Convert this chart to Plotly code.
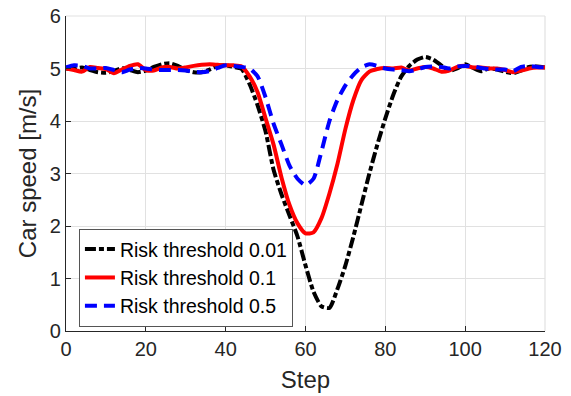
import plotly.graph_objects as go

steps = list(range(0, 121, 2))

risk_001 = [5.00, 4.99, 5.02, 4.97, 4.93, 4.92, 4.95, 5.01, 4.97, 4.93,
            4.96, 5.03, 5.08, 5.10, 5.05, 4.97, 4.93, 4.93, 4.98, 5.05,
            5.06, 5.03, 4.99, 4.70, 4.30, 3.80, 3.07, 2.60, 2.20, 1.80,
            1.25, 0.75, 0.47, 0.44, 0.80, 1.25, 1.80, 2.40, 3.00, 3.55,
            4.05, 4.50, 4.85, 5.05, 5.17, 5.22, 5.17, 5.06, 4.96, 5.00,
            5.08, 5.01, 4.95, 5.00, 4.98, 4.94, 4.91, 4.96, 5.03, 5.04,
            5.02]

risk_01 = [5.00, 4.97, 4.94, 5.03, 5.01, 4.99, 4.91, 4.98, 5.05, 5.08,
           4.97, 4.96, 5.02, 5.03, 5.00, 5.02, 5.05, 5.07, 5.08, 5.07,
           5.06, 5.06, 5.04, 4.85, 4.55, 4.05, 3.55, 2.92, 2.40, 2.05,
           1.86, 1.88, 2.15, 2.62, 3.18, 3.85, 4.40, 4.78, 4.94, 4.99,
           5.01, 5.00, 5.02, 4.96, 5.00, 5.03, 5.00, 4.94, 4.96, 5.03,
           5.05, 5.02, 5.02, 5.00, 5.00, 4.97, 4.93, 4.96, 5.00, 5.02,
           5.02]

risk_05 = [5.02, 5.06, 5.05, 5.00, 5.00, 5.01, 4.97, 4.93, 4.98, 5.01,
           5.00, 4.98, 4.97, 4.97, 4.97, 4.96, 4.94, 4.93, 4.95, 5.01,
           5.06, 5.05, 5.03, 5.00, 4.85, 4.45, 3.95, 3.55, 3.15, 2.90,
           2.78, 2.90, 3.42, 4.00, 4.40, 4.68, 4.88, 5.02, 5.08, 5.05,
           5.00, 4.98, 4.97, 4.95, 4.98, 5.03, 5.04, 5.03, 5.00, 5.04,
           5.05, 5.04, 5.01, 4.99, 4.98, 4.98, 4.95, 5.03, 5.05, 5.03,
           5.02]

series_names = ["Risk threshold 0.01", "Risk threshold 0.1", "Risk threshold 0.5"]
x_ticks = [0, 20, 40, 60, 80, 100, 120]
y_ticks = [0, 1, 2, 3, 4, 5, 6]

fig = go.Figure()
fig.add_trace(go.Scatter(x=steps, y=risk_001, mode="lines", name=series_names[0],
                         line=dict(color="#000000", width=4, dash="11px,3px,5px,3px",
                                   shape="spline", smoothing=0.6)))
fig.add_trace(go.Scatter(x=steps, y=risk_01, mode="lines", name=series_names[1],
                         line=dict(color="#ff0000", width=4, shape="spline", smoothing=0.6)))
fig.add_trace(go.Scatter(x=steps, y=risk_05, mode="lines", name=series_names[2],
                         line=dict(color="#0000ff", width=4, dash="12px,7px",
                                   shape="spline", smoothing=0.6)))

# light box edges on top and right (like MATLAB grid at the limits)
fig.add_shape(type="line", xref="x domain", yref="y domain", x0=0, x1=1, y0=1, y1=1,
              line=dict(color="#e1e1e1", width=1.2), layer="below")
fig.add_shape(type="line", xref="x domain", yref="y domain", x0=1, x1=1, y0=0, y1=1,
              line=dict(color="#e1e1e1", width=1.2), layer="below")

font_fam = "Liberation Sans, Arial, sans-serif"
axis_common = dict(
    showgrid=True, gridcolor="#e1e1e1", gridwidth=1,
    showline=True, linecolor="#262626", linewidth=1.2,
    ticks="inside", ticklen=5, tickcolor="#262626", tickwidth=1,
    zeroline=False, automargin=False, ticklabeloverflow="allow",
    tickfont=dict(family=font_fam, size=20, color="#262626"),
)

fig.update_layout(
    width=571, height=396,
    margin=dict(l=66, r=26, t=16, b=65, autoexpand=False),
    paper_bgcolor="white", plot_bgcolor="white",
    font=dict(family=font_fam, color="#262626"),
    showlegend=True,
    legend=dict(x=0.027, y=0.324, xanchor="left", yanchor="top",
                bgcolor="white", bordercolor="#555555", borderwidth=1,
                font=dict(family=font_fam, size=19.5, color="#000000"),
                tracegroupgap=0, itemwidth=30),
    xaxis=dict(range=[0, 120], tickvals=x_ticks,
               title=dict(text="Step", font=dict(family=font_fam, size=24, color="#262626"), standoff=12),
               **axis_common),
    yaxis=dict(range=[0, 6], tickvals=y_ticks,
               title=dict(text="Car speed [m/s]", font=dict(family=font_fam, size=24, color="#262626"), standoff=6),
               **axis_common),
)

fig.write_html("out.html", config={"displayModeBar": False},
               post_script="document.body.style.margin='0px';")
